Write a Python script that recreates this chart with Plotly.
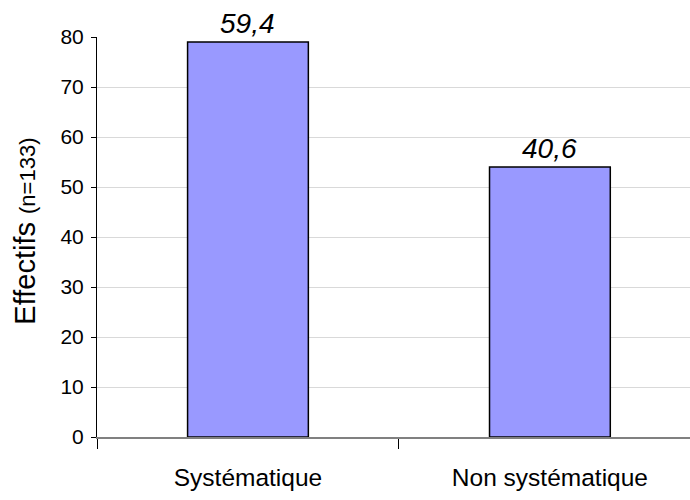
import plotly.graph_objects as go

categories = ["Systématique", "Non systématique"]
effectifs = [79, 54]
pourcentages = ["59,4", "40,6"]
y_ticks = [0, 10, 20, 30, 40, 50, 60, 70, 80]

FONT = "Liberation Sans, Arial, sans-serif"

fig = go.Figure()
fig.add_trace(go.Bar(
    x=categories, y=effectifs,
    marker=dict(color="#9999FF", line=dict(color="#000000", width=1.5)),
    width=0.4,
    hoverinfo="skip",
))

for c, v, p in zip(categories, effectifs, pourcentages):
    fig.add_annotation(
        x=c, y=v, text=p, showarrow=False, yanchor="bottom", yshift=2,
        font=dict(family=FONT, size=28, color="#000000", style="italic"),
        borderpad=0,
    )

fig.add_annotation(
    xref="paper", yref="paper", x=-0.122, y=0.515, xanchor="center", yanchor="middle",
    textangle=-90, showarrow=False,
    text="Effectifs <span style='font-size:22px'>(n=133)</span>",
    font=dict(family=FONT, size=29, color="#000000"),
)

fig.update_layout(
    width=690, height=500,
    margin=dict(l=97, r=0, t=37, b=63),
    paper_bgcolor="white", plot_bgcolor="white",
    showlegend=False,
    font=dict(family=FONT, color="#000000"),
)
fig.update_xaxes(
    range=[-0.5, 1.464],
    showline=True, linecolor="#808080", linewidth=2,
    ticks="outside", tickson="boundaries", ticklen=10, tickcolor="#000000", tickwidth=1,
    tickfont=dict(size=24.5, color="#000000"),
    ticklabelstandoff=18,
    showgrid=False, zeroline=False,
)
fig.update_yaxes(
    range=[0, 80], tickvals=y_ticks,
    showline=True, linecolor="#000000", linewidth=1,
    ticks="outside", ticklen=5, tickcolor="#000000",
    tickfont=dict(size=21, color="#000000"),
    ticklabelstandoff=3,
    showgrid=True, gridcolor="#D9D9D9", gridwidth=1,
    zeroline=False,
)

fig.write_html("out.html", config={"displayModeBar": False},
               post_script="document.body.style.margin='0';")
